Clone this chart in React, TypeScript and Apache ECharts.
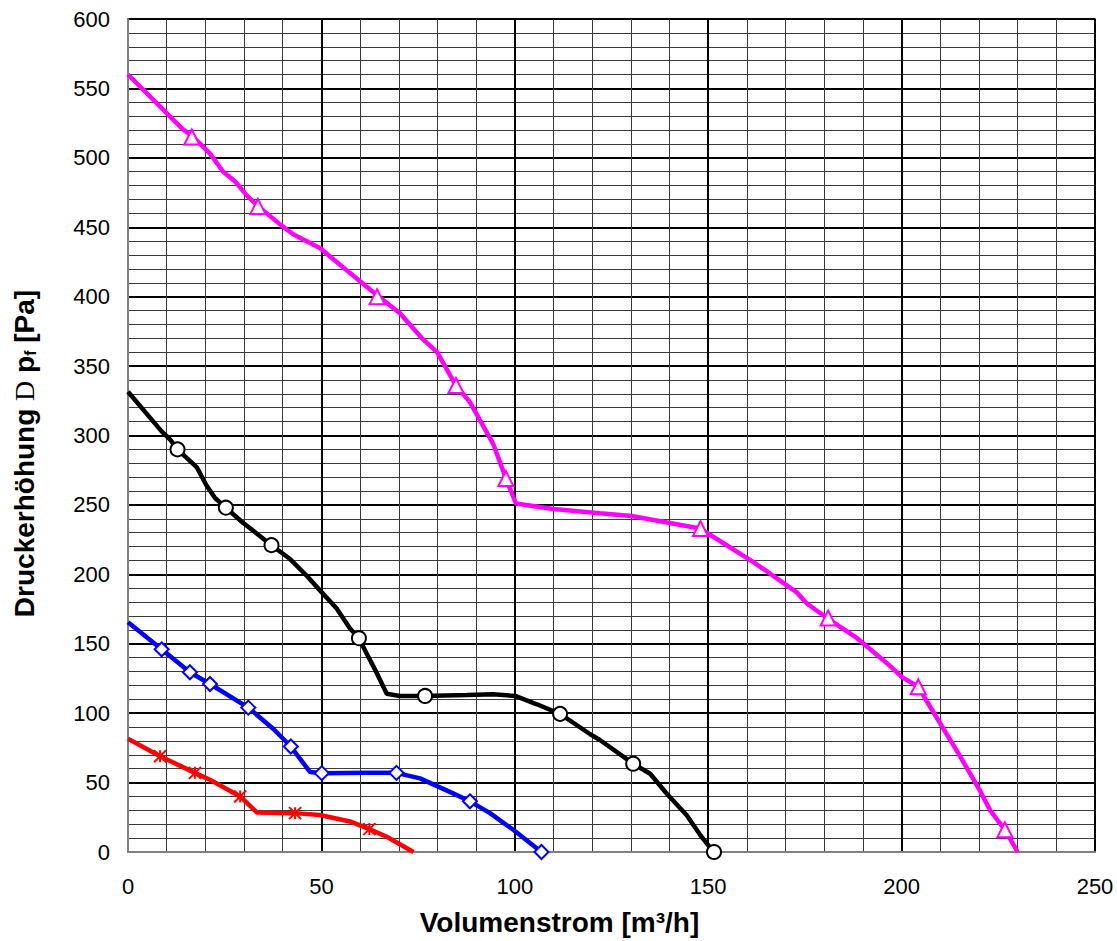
import React, { useEffect, useRef } from "react";
import * as echarts from "echarts";

// Curve points [Volumenstrom m³/h, Druckerhöhung Pa]
const magentaCurve: number[][] = [
  [0, 560], [14, 521], [16.9, 515], [21.2, 503], [24.6, 490], [27.7, 483], [30.7, 473],
  [33.7, 465], [39.8, 451], [42.7, 445], [49.6, 435], [57, 418], [64.4, 401], [70.3, 388],
  [76, 370], [79.9, 360], [84.8, 336], [88.4, 324], [94.4, 294], [97.7, 269], [100.3, 251],
  [110, 247], [122, 244], [130.2, 242], [147.9, 233], [161.6, 209], [172.9, 187], [175.5, 179],
  [181, 168], [188.5, 154], [196.2, 136], [200.1, 126], [204.3, 119], [207.3, 105], [215.1, 69],
  [220.3, 44], [222.9, 30], [226.7, 16], [230, 0],
];
const magentaMarkers: number[][] = [
  [16.5, 515], [33.6, 465], [64.4, 400], [84.8, 336], [97.7, 269], [148, 233], [181, 168.5],
  [204.3, 119], [226.7, 16],
];

const blackCurve: number[][] = [
  [0, 331.5], [8.7, 303], [10.9, 297], [12.8, 290], [17.8, 277], [20.3, 264], [22.5, 255],
  [25.3, 248], [29.8, 237], [37.1, 221], [41.9, 211], [46.2, 199], [50.1, 187], [53.9, 175.5],
  [57.4, 161], [59.7, 154], [61.7, 143], [64.3, 129], [66.9, 114], [70.3, 112.4], [76.8, 112.4],
  [87.6, 113], [94.4, 113.6], [100.1, 112.4], [105.7, 106.4], [111.7, 99.5], [119.4, 85],
  [122, 80.7], [130.6, 63.6], [135, 56.4], [139.3, 42], [144.4, 26.6], [147.9, 12.4], [151.4, 0],
];
const blackMarkers: number[][] = [
  [12.8, 290], [25.3, 248], [37.1, 221], [59.7, 154], [76.8, 112.4], [111.7, 99.5], [130.6, 63.6],
  [151.5, 0],
];

const blueCurve: number[][] = [
  [0, 165.5], [8.7, 146], [16, 129.5], [21.2, 121], [31.1, 104], [37.6, 88.6], [42.1, 76],
  [44.5, 67], [47.1, 57.6], [50.1, 56.8], [61.7, 57], [69.4, 57], [75.5, 53], [83.2, 43.3],
  [88.4, 36.5], [93.6, 28], [99.6, 16], [106.9, 0],
];
const blueMarkers: number[][] = [
  [8.7, 146], [16, 129.5], [21.2, 121], [31.1, 104], [42.1, 76], [50.1, 56.8], [69.4, 57],
  [88.4, 36.5], [106.9, 0],
];

const redCurve: number[][] = [
  [0, 81.5], [8.3, 69], [17.3, 57], [21.2, 52], [29, 40], [33.3, 28.5], [43.2, 28], [49.6, 26.6],
  [57.4, 22], [62.4, 16.5], [66.9, 11], [73.8, 0],
];
const redMarkers: number[][] = [
  [8.3, 69], [17.3, 57], [29, 40], [43.2, 28], [62.4, 16.5],
];

const xTicks = { min: 0, max: 250, interval: 50 };
const yTicks = { min: 0, max: 600, interval: 50 };

const FONT = "'Liberation Sans', Arial, sans-serif";

export default function App() {
  const ref = useRef<HTMLDivElement>(null);
  useEffect(() => {
    if (!ref.current) return;
    const chart = echarts.init(ref.current, undefined, { renderer: "svg" });
    const curve = (data: number[][], color: string) => ({
      type: "line",
      data,
      showSymbol: false,
      symbol: "none",
      lineStyle: { color, width: 4.5 },
      z: 3,
      silent: true,
    });
    const markers = (data: number[][], color: string, symbol: string, size: number) => ({
      type: "scatter",
      data,
      symbol,
      symbolSize: size,
      itemStyle: { color: "#ffffff", borderColor: color, borderWidth: 2, opacity: 1 },
      z: 4,
      silent: true,
    });
    chart.setOption({
      animation: false,
      backgroundColor: "#ffffff",
      textStyle: { fontFamily: FONT },
      grid: {
        left: 128,
        right: 22,
        top: 19,
        bottom: 82,
        show: true,
        borderColor: "#808080",
        borderWidth: 2,
        backgroundColor: "transparent",
      },
      xAxis: {
        type: "value",
        min: xTicks.min,
        max: xTicks.max,
        interval: xTicks.interval,
        name: "Volumenstrom [m³/h]",
        nameLocation: "middle",
        nameGap: 56,
        nameTextStyle: {
          fontSize: 28,
          fontWeight: "bold",
          color: "#000",
          fontFamily: FONT,
          padding: [0, 104, 0, 0],
        },
        axisLine: { show: true, lineStyle: { color: "#808080", width: 2 } },
        axisTick: { show: false },
        axisLabel: { fontSize: 22, color: "#000", margin: 23, fontFamily: FONT },
        splitLine: { show: true, lineStyle: { color: "#000", width: 2 } },
        minorTick: { show: false, splitNumber: 5 },
        minorSplitLine: { show: true, lineStyle: { color: "#3a3a3a", width: 1 } },
      },
      yAxis: {
        type: "value",
        min: yTicks.min,
        max: yTicks.max,
        interval: yTicks.interval,
        name: "Druckerhöhung {serif|D} p{sub|f} [Pa]",
        nameLocation: "middle",
        nameGap: 90,
        nameRotate: 90,
        nameTextStyle: {
          fontSize: 28,
          fontWeight: "bold",
          color: "#000",
          fontFamily: FONT,
          padding: [0, 36, 0, 0],
          rich: {
            serif: { fontFamily: "'Liberation Serif', serif", fontWeight: "normal", fontSize: 28, color: "#000" },
            sub: { fontSize: 16, fontWeight: "bold", color: "#000", fontFamily: FONT, verticalAlign: "bottom", padding: [12, 0, 0, 0] },
          },
        },
        axisLine: { show: true, lineStyle: { color: "#808080", width: 2 } },
        axisTick: { show: false },
        axisLabel: { fontSize: 22, color: "#000", margin: 18, fontFamily: FONT },
        splitLine: { show: true, lineStyle: { color: "#000", width: 2 } },
        minorTick: { show: false, splitNumber: 5 },
        minorSplitLine: { show: true, lineStyle: { color: "#3a3a3a", width: 1 } },
      },
      series: [
        curve(magentaCurve, "#ff00ff"),
        curve(blackCurve, "#000000"),
        curve(blueCurve, "#0000ff"),
        curve(redCurve, "#ff0000"),
        markers(magentaMarkers, "#ff00ff", "triangle", 15),
        markers(blackMarkers, "#000000", "circle", 14),
        markers(blueMarkers, "#0000ff", "diamond", 14),
        markers(redMarkers, "#ff0000", "path://M0,0L10,10M10,0L0,10M5,0L5,10", 12),
      ],
    });
    return () => chart.dispose();
  }, []);
  return (
    <div
      ref={ref}
      style={{ position: "fixed", left: 0, top: 0, width: 1117, height: 941, background: "#fff" }}
    />
  );
}
